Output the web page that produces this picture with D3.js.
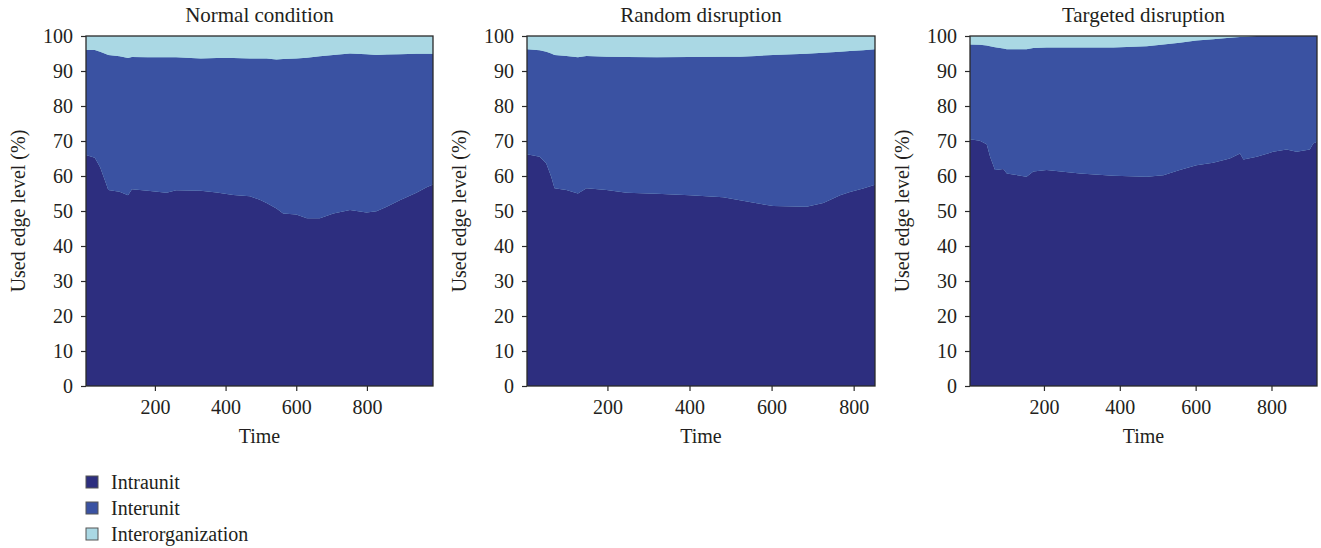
<!DOCTYPE html>
<html>
<head>
<meta charset="utf-8">
<script src="https://cdn.jsdelivr.net/npm/d3@7"></script>
<style>
  html, body { margin: 0; padding: 0; background: #ffffff; }
  svg { display: block; font-family: "Liberation Serif", "DejaVu Serif", serif; }
</style>
</head>
<body>
<svg id="chart" width="1321" height="548"></svg>
<script>
// ---------- Data ----------
const seriesNames = ["Intraunit", "Interunit", "Interorganization"];
const panelTitles = ["Normal condition", "Random disruption", "Targeted disruption"];
const yTicks = [0, 10, 20, 30, 40, 50, 60, 70, 80, 90, 100];
const xTicks = [200, 400, 600, 800];

// Normal condition
const normalTime = [5, 30, 45, 63, 68, 100, 124, 135, 180, 233, 260, 330, 375, 422, 469, 497, 516, 544, 563, 600, 630, 667, 705, 752, 799, 827, 856, 893, 940, 969, 987];
const normalIntraunit = [66.0, 65.2, 62.5, 57.5, 56.0, 55.5, 54.5, 56.2, 55.8, 55.2, 55.9, 55.8, 55.3, 54.6, 54.2, 53.2, 52.3, 50.7, 49.3, 49.0, 47.9, 47.9, 49.3, 50.3, 49.6, 49.9, 51.2, 53.1, 55.2, 56.8, 57.6];
const normalInterunit = [30.0, 30.8, 33.0, 37.3, 38.6, 38.7, 39.2, 37.8, 38.1, 38.7, 38.0, 37.8, 38.4, 39.1, 39.4, 40.4, 41.3, 42.6, 44.1, 44.6, 45.9, 46.3, 45.3, 44.7, 45.2, 44.7, 43.5, 41.7, 39.7, 38.1, 37.3];
const normalInterorg = [4.0, 4.0, 4.5, 5.2, 5.4, 5.8, 6.3, 6.0, 6.1, 6.1, 6.1, 6.4, 6.3, 6.3, 6.4, 6.4, 6.4, 6.7, 6.6, 6.4, 6.2, 5.8, 5.4, 5.0, 5.2, 5.4, 5.3, 5.2, 5.1, 5.1, 5.1];

// Random disruption
const randomTime = [4, 35, 51, 63, 71, 100, 128, 149, 198, 247, 320, 401, 482, 523, 564, 604, 685, 726, 767, 791, 823, 852];
const randomIntraunit = [66.2, 65.5, 63.6, 59.8, 56.5, 56.0, 55.0, 56.5, 56.0, 55.2, 54.9, 54.5, 53.9, 53.1, 52.2, 51.4, 51.2, 52.3, 54.5, 55.4, 56.4, 57.5];
const randomInterunit = [30.0, 30.4, 31.9, 35.2, 38.1, 38.3, 38.9, 37.8, 38.1, 38.8, 39.0, 39.5, 40.2, 41.0, 42.1, 43.2, 43.7, 42.9, 41.0, 40.3, 39.5, 38.7];
const randomInterorg = [3.8, 4.1, 4.5, 5.0, 5.4, 5.7, 6.1, 5.7, 5.9, 6.0, 6.1, 6.0, 5.9, 5.9, 5.7, 5.4, 5.1, 4.8, 4.5, 4.3, 4.1, 3.8];

// Targeted disruption
const targetedTime = [5, 31, 49, 58, 71, 93, 102, 154, 172, 207, 295, 383, 471, 515, 558, 602, 646, 690, 717, 726, 761, 804, 840, 866, 901, 910, 920];
const targetedIntraunit = [70.5, 70.1, 69.1, 65.5, 61.7, 62.0, 60.7, 59.8, 61.3, 61.7, 60.7, 60.1, 59.8, 60.2, 61.7, 63.1, 63.8, 65.0, 66.4, 64.7, 65.5, 66.9, 67.6, 66.9, 67.6, 69.3, 69.8];
const targetedInterunit = [27.1, 27.4, 28.2, 31.6, 35.1, 34.4, 35.5, 36.4, 35.3, 35.0, 36.0, 36.6, 37.3, 37.4, 36.4, 35.6, 35.3, 34.5, 33.3, 35.1, 34.5, 33.1, 32.4, 33.1, 32.4, 30.7, 30.2];
const targetedInterorg = [2.4, 2.5, 2.7, 2.9, 3.2, 3.6, 3.8, 3.8, 3.4, 3.3, 3.3, 3.3, 2.9, 2.4, 1.9, 1.3, 0.9, 0.5, 0.3, 0.2, 0, 0, 0, 0, 0, 0, 0];

// x-domain of each panel (time range shown)
const normalDomain = [5, 987];
const randomDomain = [4, 852];
const targetedDomain = [5, 920];

// ---------- Styling ----------
const colors = ["#2d2e7f", "#3a52a2", "#aad8e4"];
const textColor = "#231f20";
const frameColor = "#2a2a2a";

const panels = [
  { title: panelTitles[0], time: normalTime, vals: [normalIntraunit, normalInterunit, normalInterorg], domain: normalDomain, left: 86, right: 433 },
  { title: panelTitles[1], time: randomTime, vals: [randomIntraunit, randomInterunit, randomInterorg], domain: randomDomain, left: 527, right: 875 },
  { title: panelTitles[2], time: targetedTime, vals: [targetedIntraunit, targetedInterunit, targetedInterorg], domain: targetedDomain, left: 970, right: 1317 }
];
const plotTop = 36, plotBottom = 386;

const svg = d3.select("#chart");

panels.forEach(p => {
  const x = d3.scaleLinear().domain(p.domain).range([p.left, p.right]);
  const y = d3.scaleLinear().domain([0, 100]).range([plotBottom, plotTop]);

  const rows = p.time.map((t, i) => {
    const r = { t: t };
    seriesNames.forEach((s, k) => r[s] = p.vals[k][i]);
    return r;
  });
  const stacked = d3.stack().keys(seriesNames)(rows);

  const g = svg.append("g");
  const clipId = "clip" + p.left;
  svg.append("clipPath").attr("id", clipId)
    .append("rect").attr("x", p.left).attr("y", plotTop)
    .attr("width", p.right - p.left).attr("height", plotBottom - plotTop);

  const area = d3.area()
    .x(d => x(d.data.t))
    .y0(d => y(d[0]))
    .y1(d => y(d[1]))
    .curve(d3.curveLinear);

  // Top layer (interorganization) drawn up to 100 as the backdrop of the plot
  g.append("rect")
    .attr("x", p.left).attr("y", y(100))
    .attr("width", p.right - p.left).attr("height", y(0) - y(100))
    .attr("fill", colors[2]);

  g.append("g").attr("clip-path", `url(#${clipId})`)
    .selectAll("path").data(stacked).join("path")
    .attr("d", area)
    .attr("fill", (d, i) => colors[i]);

  // Frame
  g.append("rect")
    .attr("x", p.left).attr("y", plotTop)
    .attr("width", p.right - p.left).attr("height", plotBottom - plotTop)
    .attr("fill", "none").attr("stroke", frameColor).attr("stroke-width", 1.3);

  // Axes
  const yAxis = d3.axisLeft(y).tickValues(yTicks).tickSize(5).tickPadding(8).tickFormat(d3.format("d"));
  const xAxis = d3.axisBottom(x).tickValues(xTicks).tickSize(5).tickPadding(9).tickFormat(d3.format("d"));

  const ya = g.append("g").attr("transform", `translate(${p.left},0)`).call(yAxis);
  const xa = g.append("g").attr("transform", `translate(0,${plotBottom})`).call(xAxis);
  [ya, xa].forEach(a => {
    a.select(".domain").remove();
    a.selectAll(".tick line").attr("stroke", frameColor).attr("stroke-width", 1.2);
    a.selectAll(".tick text").attr("fill", textColor)
      .style("font-family", '"Liberation Serif", serif').style("font-size", "20px");
  });

  const cx = (p.left + p.right) / 2;
  // Title
  g.append("text").attr("x", cx).attr("y", 22)
    .attr("text-anchor", "middle").attr("fill", textColor)
    .style("font-size", "21px").text(p.title);
  // X label
  g.append("text").attr("x", cx).attr("y", 443)
    .attr("text-anchor", "middle").attr("fill", textColor)
    .style("font-size", "20px").text("Time");
  // Y label
  g.append("text")
    .attr("transform", `translate(${p.left - 61},${(plotTop + plotBottom) / 2}) rotate(-90)`)
    .attr("text-anchor", "middle").attr("fill", textColor)
    .style("font-size", "20px").text("Used edge level (%)");
});

// Legend
const legend = svg.append("g");
seriesNames.forEach((s, i) => {
  const cy = 482 + i * 26;
  legend.append("rect")
    .attr("x", 86).attr("y", cy - 6).attr("width", 12).attr("height", 12)
    .attr("fill", colors[i]).attr("stroke", "#555").attr("stroke-width", 1);
  legend.append("text")
    .attr("x", 111).attr("y", cy).attr("dy", "0.35em")
    .attr("fill", textColor).style("font-size", "20px").text(s);
});
</script>
</body>
</html>
